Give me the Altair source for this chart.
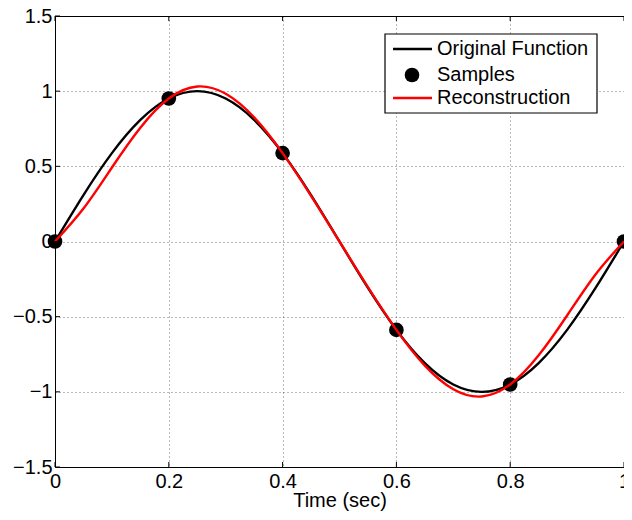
import altair as alt
import pandas as pd

# ---- data ----
t_curve = [0.0, 0.05, 0.1, 0.15, 0.2, 0.25, 0.3, 0.35, 0.4, 0.45, 0.5,
           0.55, 0.6, 0.65, 0.7, 0.75, 0.8, 0.85, 0.9, 0.95, 1.0]
orig_vals = [0.0, 0.309, 0.588, 0.809, 0.951, 1.0, 0.951, 0.809, 0.588, 0.309, 0.0,
             -0.309, -0.588, -0.809, -0.951, -1.0, -0.951, -0.809, -0.588, -0.309, 0.0]
recon_vals = [0.0, 0.219, 0.492, 0.757, 0.951, 1.031, 0.983, 0.826, 0.588, 0.304, 0.0,
              -0.304, -0.588, -0.826, -0.983, -1.031, -0.951, -0.757, -0.492, -0.219, 0.0]
sample_t = [0.0, 0.2, 0.4, 0.6, 0.8, 1.0]
sample_vals = [0.0, 0.951, 0.588, -0.588, -0.951, 0.0]
x_ticks = [0, 0.2, 0.4, 0.6, 0.8, 1]
y_ticks = [-1.5, -1, -0.5, 0, 0.5, 1, 1.5]
legend_labels = ["Original Function", "Samples", "Reconstruction"]

W, H = 569, 451
FONT = "Liberation Sans"

orig_df = pd.DataFrame({"t": t_curve, "v": orig_vals})
recon_df = pd.DataFrame({"t": t_curve, "v": recon_vals})
samp_df = pd.DataFrame({"t": sample_t, "v": sample_vals})
xt_df = pd.DataFrame({"t": x_ticks})
yt_df = pd.DataFrame({"v": y_ticks})
one = pd.DataFrame({"a": [0]})

xscale = alt.Scale(domain=[0, 1], nice=False, zero=False)
yscale = alt.Scale(domain=[-1.5, 1.5], nice=False, zero=False)
xaxis = alt.Axis(values=x_ticks, format="~g", title="Time (sec)", grid=True,
                 ticks=False, domain=False, labelPadding=4, titlePadding=-1,
                 labelFlush=False, labelOverlap=False)
yaxis = alt.Axis(values=y_ticks, format="~g", title=None, grid=True,
                 ticks=False, domain=False, labelPadding=3,
                 labelFlush=False, labelOverlap=False)

X = alt.X("t:Q", scale=xscale, axis=xaxis)
Y = alt.Y("v:Q", scale=yscale, axis=yaxis)

points = alt.Chart(samp_df).mark_circle(size=215, color="black", opacity=1).encode(x=X, y=Y)
orig = alt.Chart(orig_df).mark_line(color="black", strokeWidth=2.4, interpolate="natural").encode(x=X, y=Y)
recon = alt.Chart(recon_df).mark_line(color="#ff0000", strokeWidth=2.4, interpolate="natural").encode(x=X, y=Y)

# inward tick marks (MATLAB style)
xt_bottom = alt.Chart(xt_df).mark_rule(color="black", strokeWidth=1).encode(
    x=X, y=alt.value(H), y2=alt.value(H - 5))
xt_top = alt.Chart(xt_df).mark_rule(color="black", strokeWidth=1).encode(
    x=X, y=alt.value(0), y2=alt.value(5))
yt_left = alt.Chart(yt_df).mark_rule(color="black", strokeWidth=1).encode(
    y=Y, x=alt.value(0), x2=alt.value(5))

# legend box
lx0, lx1, ly0, ly1 = 330, 542, 18, 97
rows = [33, 59, 82]
sym_x0, sym_x1, sym_cx, txt_x = 338, 377, 357, 382

leg_box = alt.Chart(one).mark_rect(fill="white", stroke="black", strokeWidth=1.2).encode(
    x=alt.value(lx0), x2=alt.value(lx1), y=alt.value(ly0), y2=alt.value(ly1))
leg_l1 = alt.Chart(one).mark_rule(color="black", strokeWidth=2.4).encode(
    x=alt.value(sym_x0), x2=alt.value(sym_x1), y=alt.value(rows[0]))
leg_pt = alt.Chart(one).mark_circle(size=215, color="black", opacity=1).encode(
    x=alt.value(sym_cx), y=alt.value(rows[1]))
leg_l3 = alt.Chart(one).mark_rule(color="#ff0000", strokeWidth=2.4).encode(
    x=alt.value(sym_x0), x2=alt.value(sym_x1), y=alt.value(rows[2]))
leg_texts = [
    alt.Chart(one).mark_text(text=lab, align="left", baseline="middle", fontSize=20,
                             font=FONT, color="black").encode(x=alt.value(txt_x), y=alt.value(r))
    for lab, r in zip(legend_labels, rows)
]

chart = alt.layer(
    points, orig, recon, xt_bottom, xt_top, yt_left,
    leg_box, leg_l1, leg_pt, leg_l3, *leg_texts
).properties(
    width=W, height=H,
    background="white",
    autosize=alt.AutoSizeParams(type="none"),
    padding={"left": 47, "top": 8, "right": 0, "bottom": 45},
).configure_view(
    stroke="black", strokeWidth=1
).configure_axis(
    labelFont=FONT, labelFontSize=20, labelColor="black",
    titleFont=FONT, titleFontSize=20, titleFontWeight="normal", titleColor="black",
    gridColor="#000000", gridDash=[1, 3], gridOpacity=0.55, gridWidth=1
)

chart.save("out.html", embed_options={"renderer": "svg", "actions": False})
